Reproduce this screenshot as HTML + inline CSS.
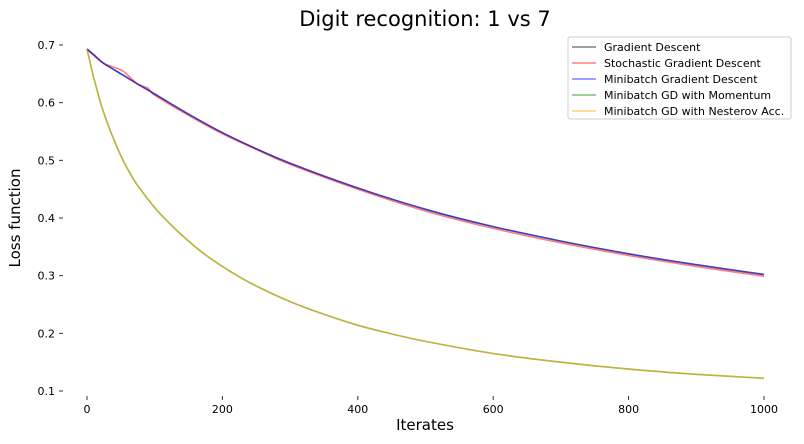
<!DOCTYPE html>
<html><head><meta charset="utf-8"><style>
body{margin:0;background:#fff;font-family:"DejaVu Sans","Liberation Sans",sans-serif;}
svg text{font-family:"DejaVu Sans","Liberation Sans",sans-serif;}
</style></head><body>
<svg id="chart" width="804" height="440" xmlns="http://www.w3.org/2000/svg">
<text x="425" y="26" text-anchor="middle" font-size="21">Digit recognition: 1 vs 7</text>
<g id="axes"></g>
<g id="lines"></g>
<text x="425" y="430" text-anchor="middle" font-size="15">Iterates</text>
<text transform="translate(20,218) rotate(-90)" text-anchor="middle" font-size="15">Loss function</text>
<g>
<rect x="568" y="37" width="223" height="82" fill="#fff" stroke="#ccc" rx="2"/>
<g id="legend-items"></g>
</g>
</svg>
<script>
const slowXs = [0,10,25,50,60,75,90,100,150,200,250,300,400,500,600,700,800,900,1000];
const gdVals = [0.693,0.683,0.668,0.650,0.643,0.632,0.622,0.615,0.580,0.548,0.520,0.495,0.452,0.415,0.385,0.360,0.338,0.319,0.302];
const sgdVals = [0.693,0.682,0.668,0.657,0.648,0.632,0.625,0.613,0.578,0.546,0.519,0.493,0.450,0.412,0.382,0.357,0.335,0.316,0.299];
const fastXs = [0,5,10,20,30,40,50,60,75,100,125,150,175,200,225,250,300,350,400,450,500,600,700,800,900,1000];
const fastVals = [0.693,0.667,0.643,0.600,0.565,0.535,0.508,0.485,0.456,0.418,0.387,0.360,0.336,0.316,0.298,0.282,0.255,0.233,0.214,0.199,0.186,0.165,0.150,0.138,0.129,0.122];
const xTicks = [0,200,400,600,800,1000];
const yTicks = [0.1,0.2,0.3,0.4,0.5,0.6,0.7];
const X = v => 87 + v*(764-87)/1000;
const Y = v => 45 + (0.7-v)*(391-45)/0.6;
const NS="http://www.w3.org/2000/svg";
const axes=document.getElementById('axes');
function mk(t,a,p){const e=document.createElementNS(NS,t);for(const k in a)e.setAttribute(k,a[k]);p.appendChild(e);return e;}
function smooth(pts){
  let d='M'+pts[0][0].toFixed(1)+','+pts[0][1].toFixed(1);
  for(let i=0;i<pts.length-1;i++){
    const p0=pts[Math.max(i-1,0)],p1=pts[i],p2=pts[i+1],p3=pts[Math.min(i+2,pts.length-1)];
    const c1=[p1[0]+(p2[0]-p0[0])/6,p1[1]+(p2[1]-p0[1])/6];
    const c2=[p2[0]-(p3[0]-p1[0])/6,p2[1]-(p3[1]-p1[1])/6];
    d+='C'+c1.map(n=>n.toFixed(1)).join(',')+' '+c2.map(n=>n.toFixed(1)).join(',')+' '+p2[0].toFixed(1)+','+p2[1].toFixed(1);
  }
  return d;
}
xTicks.forEach(t=>{
  const tk=mk('line',{x1:X(t),x2:X(t),y1:396,y2:400,stroke:'#333'},axes);
  
  
  const l=mk('text',{x:X(t),y:413,'text-anchor':'middle','font-size':11},axes);l.textContent=t;
  
  
});
yTicks.forEach(t=>{
  const tk=mk('line',{x1:59,x2:63,y1:Y(t),y2:Y(t),stroke:'#333'},axes);
  
  
  const l=mk('text',{x:55,y:Y(t)+4,'text-anchor':'end','font-size':11},axes);l.textContent=t.toFixed(1);
  
  
});
const series=[
 {name:'Gradient Descent',xs:slowXs,vals:gdVals,color:'#000',dn:'gd-line'},
 {name:'Stochastic Gradient Descent',xs:slowXs,vals:sgdVals,color:'#f00',dn:'sgd-line'},
 {name:'Minibatch Gradient Descent',xs:slowXs,vals:gdVals,color:'#00f',dn:'minibatch-line'},
 {name:'Minibatch GD with Momentum',xs:fastXs,vals:fastVals,color:'#008000',dn:'momentum-line'},
 {name:'Minibatch GD with Nesterov Acc.',xs:fastXs,vals:fastVals,color:'#ffa500',dn:'nesterov-line'}
];
const lines=document.getElementById('lines'), leg=document.getElementById('legend-items');
series.forEach((s,i)=>{
  const pts=s.vals.map((v,j)=>[X(s.xs[j]),Y(v)]);
  const p=mk('path',{d:smooth(pts),fill:'none',stroke:s.color,'stroke-opacity':0.5,'stroke-width':1.6,'stroke-linejoin':'round'},lines);
  
  
  const y=47+i*16;
  const g=mk('g',{},leg);
  
  
  mk('line',{x1:572,x2:596,y1:y,y2:y,stroke:s.color,'stroke-opacity':0.5,'stroke-width':1.5},g);
  const t=mk('text',{x:604,y:y+4,'font-size':11},g);t.textContent=s.name;
});
</script>
</body></html>
